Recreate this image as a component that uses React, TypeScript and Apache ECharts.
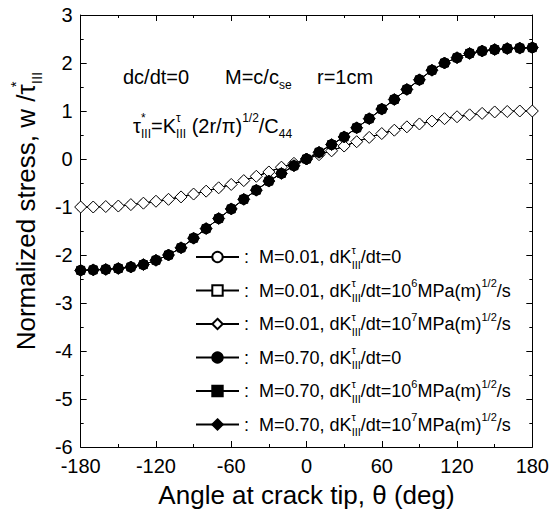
import React, { useEffect, useRef } from "react";
import * as echarts from "echarts";

const angles = [
  -180, -170, -160, -150, -140, -130, -120, -110, -100, -90, -80, -70, -60, -50, -40, -30, -20, -10,
  0, 10, 20, 30, 40, 50, 60, 70, 80, 90, 100, 110, 120, 130, 140, 150, 160, 170, 180,
];

// M = 0.01 (three loading rates coincide)
const m001 = [
  -1.0, -1.0, -0.99, -0.98, -0.95, -0.92, -0.88, -0.84, -0.79, -0.73, -0.67, -0.6, -0.53, -0.45, -0.36, -0.27, -0.17, -0.09,
  0, 0.09, 0.17, 0.27, 0.36, 0.45, 0.53, 0.6, 0.67, 0.73, 0.79, 0.84, 0.88, 0.92, 0.95, 0.98, 0.99, 1.0, 1.0,
];

// M = 0.70 (three loading rates coincide)
const m070 = [
  -2.32, -2.31, -2.3, -2.28, -2.25, -2.2, -2.11, -2.0, -1.85, -1.65, -1.45, -1.24, -1.04, -0.84, -0.65, -0.46, -0.3, -0.14,
  0, 0.14, 0.3, 0.46, 0.65, 0.84, 1.04, 1.24, 1.45, 1.65, 1.85, 2.0, 2.11, 2.2, 2.25, 2.28, 2.3, 2.31, 2.32,
];

const xMin = -180;
const xMax = 180;
const xInterval = 60;
const yMin = -6;
const yMax = 3;
const yInterval = 1;

const seriesNames = [
  "M=0.01, dK/dt=0",
  "M=0.01, dK/dt=10^6MPa(m)^1/2/s",
  "M=0.01, dK/dt=10^7MPa(m)^1/2/s",
  "M=0.70, dK/dt=0",
  "M=0.70, dK/dt=10^6MPa(m)^1/2/s",
  "M=0.70, dK/dt=10^7MPa(m)^1/2/s",
];

const legendRich = [
  "{n|:  M=0.01, dK}{supz|τ}{sub|III}{n|/dt=0}",
  "{n|:  M=0.01, dK}{supz|τ}{sub|III}{n|/dt=10}{sup|6}{n|MPa(m)}{sup|1/2}{n|/s}",
  "{n|:  M=0.01, dK}{supz|τ}{sub|III}{n|/dt=10}{sup|7}{n|MPa(m)}{sup|1/2}{n|/s}",
  "{n|:  M=0.70, dK}{supz|τ}{sub|III}{n|/dt=0}",
  "{n|:  M=0.70, dK}{supz|τ}{sub|III}{n|/dt=10}{sup|6}{n|MPa(m)}{sup|1/2}{n|/s}",
  "{n|:  M=0.70, dK}{supz|τ}{sub|III}{n|/dt=10}{sup|7}{n|MPa(m)}{sup|1/2}{n|/s}",
];

const symbols = ["circle", "rect", "diamond", "circle", "rect", "diamond"];
const symbolSizes = [8, 6, 12, 10, 8, 12];
const fills = ["#ffffff", "#ffffff", "#ffffff", "#000000", "#000000", "#000000"];
const seriesData = [m001, m001, m001, m070, m070, m070];

const F = "'Liberation Sans', Arial, Helvetica, sans-serif";

function richSet(base: number, small: number, lh: number) {
  return {
    n: { fontSize: base, fontFamily: F, color: "#000", lineHeight: lh },
    sup: { fontSize: small, fontFamily: F, color: "#000", verticalAlign: "top", lineHeight: small + 1 },
    supz: { fontSize: small, fontFamily: F, color: "#000", verticalAlign: "top", lineHeight: small + 1, width: 0.1 },
    sub: { fontSize: small, fontFamily: F, color: "#000", verticalAlign: "bottom", lineHeight: small + 1 },
  };
}

export default function App() {
  const ref = useRef<HTMLDivElement>(null);
  useEffect(() => {
    const chart = echarts.init(ref.current!, null, { renderer: "svg" });
    const axisCommon = {
      axisLine: { show: true, onZero: false, lineStyle: { color: "#000", width: 1 } },
      axisTick: { show: true, inside: true, length: 6, lineStyle: { color: "#000", width: 1 } },
      minorTick: { show: true, splitNumber: 2, length: 3, lineStyle: { color: "#000", width: 1 } },
      splitLine: { show: false },
      minorSplitLine: { show: false },
    };
    const option: any = {
      animation: false,
      backgroundColor: "#ffffff",
      grid: { left: 80, right: 19, top: 15, bottom: 69 },
      xAxis: [
        {
          type: "value",
          position: "bottom",
          min: xMin,
          max: xMax,
          interval: xInterval,
          ...axisCommon,
          axisLabel: { color: "#000", fontSize: 20, fontFamily: F, margin: 9 },
          name: "Angle at crack tip, θ (deg)",
          nameLocation: "middle",
          nameGap: 35,
          nameTextStyle: { color: "#000", fontSize: 26, fontFamily: F },
        },
        {
          type: "value",
          position: "top",
          min: xMin,
          max: xMax,
          interval: xInterval,
          ...axisCommon,
          axisLabel: { show: false },
        },
      ],
      yAxis: [
        {
          type: "value",
          position: "left",
          min: yMin,
          max: yMax,
          interval: yInterval,
          ...axisCommon,
          axisLabel: { color: "#000", fontSize: 20, fontFamily: F, margin: 8 },
          name: "{n|Normalized stress, w /τ}{supz|*}{sub|III}",
          nameLocation: "middle",
          nameGap: 35,
          nameTextStyle: { color: "#000", fontSize: 26, fontFamily: F, padding: [0, 0, 0, 40], rich: richSet(26, 15, 36) },
        },
        {
          type: "value",
          position: "right",
          min: yMin,
          max: yMax,
          interval: yInterval,
          ...axisCommon,
          axisLabel: { show: false },
        },
      ],
      legend: {
        orient: "vertical",
        left: 190,
        top: 239,
        itemWidth: 43,
        itemHeight: 13,
        itemGap: 7.5,
        selectedMode: false,
        data: seriesNames,
        formatter: (name: string) => legendRich[seriesNames.indexOf(name)],
        textStyle: { color: "#000", fontFamily: F, fontSize: 18, rich: richSet(18, 11, 26) },
      },
      graphic: [
        {
          type: "text",
          x: 123,
          y: 77,
          style: { text: "dc/dt=0", font: `20px ${F}`, fill: "#000", verticalAlign: "middle" },
        },
        {
          type: "text",
          x: 225,
          y: 77,
          style: {
            text: "{n|M=c/c}{sub|se}",
            verticalAlign: "middle",
            rich: richSet(20, 12, 28),
          },
        },
        {
          type: "text",
          x: 317,
          y: 77,
          style: { text: "r=1cm", font: `20px ${F}`, fill: "#000", verticalAlign: "middle" },
        },
        {
          type: "text",
          x: 133,
          y: 126,
          style: {
            text: "{n|τ}{supz|*}{sub|III}{n|=K}{supz|τ}{sub|III}{n| (2r/π)}{sup|1/2}{n|/C}{sub|44}",
            verticalAlign: "middle",
            rich: richSet(20, 12, 28),
          },
        },
      ],
      series: seriesNames.map((name, k) => ({
        name,
        type: "line",
        xAxisIndex: 0,
        yAxisIndex: 0,
        data: angles.map((a, i) => [a, seriesData[k][i]]),
        symbol: symbols[k],
        symbolSize: symbolSizes[k],
        showAllSymbol: true,
        lineStyle: { color: "#000", width: 1 },
        itemStyle: { color: fills[k], borderColor: "#000", borderWidth: 1, opacity: 1 },
        z: 2 + k,
      })),
    };
    chart.setOption(option);
    return () => chart.dispose();
  }, []);
  return (
    <div
      ref={ref}
      style={{ position: "absolute", left: 0, top: 0, width: 552, height: 516, background: "#fff" }}
    />
  );
}
